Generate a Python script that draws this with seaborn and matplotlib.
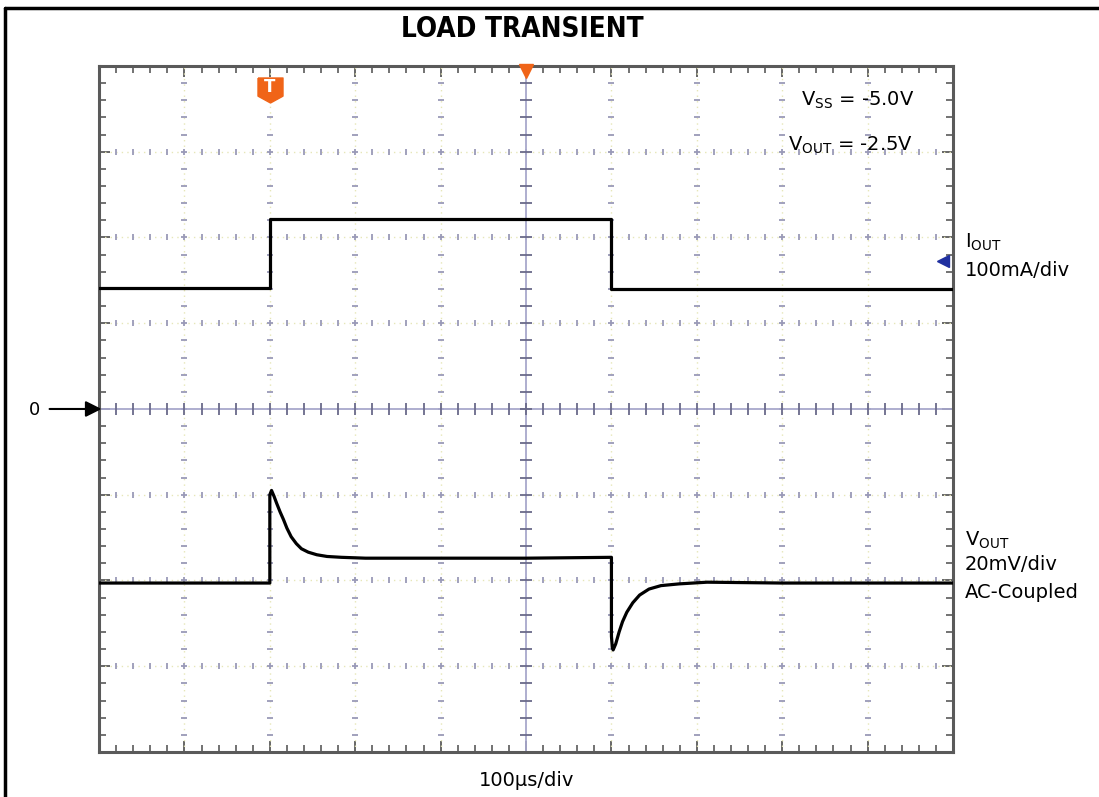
import numpy as np
import pandas as pd
import matplotlib
matplotlib.use("Agg")
import matplotlib.pyplot as plt
from matplotlib.lines import Line2D
import seaborn as sns

# ---------------- data ----------------
# time axis: 100 us/div, 10 divisions; vertical values in screen divisions
iout_t = [0, 200, 200, 600, 600, 1000]
iout_div = [1.41, 1.41, 2.22, 2.22, 1.40, 1.40]

vout_t = [0, 200, 200, 202, 205, 208, 212, 216, 220, 225, 231, 237, 245,
          255, 267, 284, 312, 400, 500,
          600, 600, 601, 602, 605, 609, 613, 618, 625, 633, 644, 658, 679,
          712, 800, 900, 1000]
vout_div = [-2.03, -2.03, -1.00, -0.95, -1.02, -1.10, -1.20, -1.29, -1.39,
            -1.49, -1.57, -1.63, -1.67, -1.70, -1.72, -1.73, -1.74, -1.74,
            -1.74,
            -1.73, -2.65, -2.78, -2.81, -2.74, -2.60, -2.48, -2.37, -2.26,
            -2.17, -2.10, -2.06, -2.04, -2.02, -2.03, -2.03, -2.03]

trigger_t = 200          # trigger position (us)
iout_ref_div = 1.72      # channel reference marker level (div)

title = "LOAD TRANSIENT"
x_label = "100\u00b5s/div"
note1 = r"V$_{\rm SS}$ = -5.0V"
note2 = r"V$_{\rm OUT}$ = -2.5V"
iout_labels = [r"I$_{\rm OUT}$", "100mA/div"]
vout_labels = [r"V$_{\rm OUT}$", "20mV/div", "AC-Coupled"]

# ---------------- figure ----------------
sns.set_theme(style="white")
plt.rcParams["font.family"] = ["DejaVu Sans"]
plt.rcParams["mathtext.fontset"] = "dejavusans"
plt.rcParams["text.color"] = "black"

fig = plt.figure(figsize=(10.99, 7.97), dpi=100)
ax = fig.add_axes([0.0901, 0.0565, 0.7771, 0.8607])
ax.set_xlim(0, 1000)
ax.set_ylim(-4, 4)

grid_col = "#9a9ab8"
faint_col = "#e6e6b8"

# faint dotted grid lines with 0.2-div marks
xs_major = np.arange(100, 1000, 100)
ys_major = np.arange(-3, 4, 1)
for xv in xs_major:
    if xv == 500:
        continue
    ax.axvline(xv, color=faint_col, lw=1.0, ls=(0, (1, 3)), zorder=1)
    ax.plot(np.full(39, xv), np.arange(-3.8, 3.81, 0.2), ls="none", marker="_",
            ms=5, mew=1.3, color=grid_col, zorder=2)
for yv in ys_major:
    if yv == 0:
        continue
    ax.axhline(yv, color=faint_col, lw=1.0, ls=(0, (1, 3)), zorder=1)
    ax.plot(np.arange(20, 981, 20), np.full(49, yv), ls="none", marker="|",
            ms=5, mew=1.3, color=grid_col, zorder=2)

# center cross with ticks
ax.axhline(0, color="#a8a8cc", lw=1.3, zorder=2)
ax.axvline(500, color="#a8a8cc", lw=1.3, zorder=2)
ax.plot(np.arange(20, 981, 20), np.zeros(49), ls="none", marker="|", ms=8,
        mew=1.3, color="#6a6a8a", zorder=2)
ax.plot(np.full(39, 500), np.arange(-3.8, 3.81, 0.2), ls="none", marker="_",
        ms=8, mew=1.3, color="#6a6a8a", zorder=2)

# traces
sns.lineplot(x=iout_t, y=iout_div, sort=False, estimator=None, color="black",
             lw=2.3, ax=ax, zorder=5)
sns.lineplot(x=vout_t, y=vout_div, sort=False, estimator=None, color="black",
             lw=2.3, ax=ax, zorder=5)

# frame
for s in ax.spines.values():
    s.set_color("#5a5a5a")
    s.set_linewidth(2.2)
ax.set_xticks(np.arange(0, 1001, 100))
ax.set_xticks(np.arange(0, 1001, 20), minor=True)
ax.set_yticks(np.arange(-4, 4.01, 1))
ax.set_yticks(np.arange(-4, 4.01, 0.2), minor=True)
ax.tick_params(which="both", direction="in", top=True, right=True,
               bottom=True, left=True, labelbottom=False, labelleft=False,
               color="#5a5a5a")
ax.tick_params(which="major", length=8, width=1.3)
ax.tick_params(which="minor", length=5, width=1.2)
ax.set_xlabel("")
ax.set_ylabel("")

# trigger badge
shield = [(-1, 1), (1, 1), (1, -0.45), (0, -1), (-1, -0.45), (-1, 1)]
ax.plot([trigger_t], [3.72], marker=shield, ms=18, color="#f06418",
        ls="none", clip_on=False, zorder=8)
ax.text(trigger_t, 3.76, "T", color="white", fontweight="bold", ha="center",
        va="center", fontsize=12, zorder=9)
# trigger time marker at top center
ax.plot([500], [3.94], marker="v", ms=10, color="#f06418", ls="none",
        clip_on=False, zorder=8)
# channel reference marker
ax.plot([988], [iout_ref_div], marker="<", ms=9, color="#2030a0", ls="none",
        clip_on=False, zorder=8)
# ground reference arrow
ax.annotate("", xy=(3, 0), xycoords="data", xytext=(-52, 0),
            textcoords="offset pixels",
            arrowprops=dict(arrowstyle="-|>", color="black", lw=1.5,
                            mutation_scale=24, shrinkA=0, shrinkB=0),
            annotation_clip=False, zorder=9)
fig.text(0.0318, 0.4856, "0", ha="center", va="center", fontsize=13)

# texts
fig.text(0.475, 0.9636, title, ha="center", va="center", fontsize=20,
         fontweight="bold", fontstretch="condensed",
         family=["DejaVu Sans"])
fig.text(0.780, 0.8745, note1, ha="center", va="center", fontsize=14)
fig.text(0.774, 0.8180, note2, ha="center", va="center", fontsize=14)
fig.text(0.878, 0.6964, iout_labels[0], ha="left", va="center", fontsize=14)
fig.text(0.878, 0.6612, iout_labels[1], ha="left", va="center", fontsize=14)
fig.text(0.878, 0.3225, vout_labels[0], ha="left", va="center", fontsize=14)
fig.text(0.878, 0.2911, vout_labels[1], ha="left", va="center", fontsize=14)
fig.text(0.878, 0.2572, vout_labels[2], ha="left", va="center", fontsize=14)
fig.text(0.4795, 0.0213, x_label, ha="center", va="center", fontsize=14)

# outer border (left and top)
fig.add_artist(Line2D([5 / 1099, 5 / 1099], [0, 1 - 8 / 797], color="black",
                      lw=2.5, transform=fig.transFigure))
fig.add_artist(Line2D([5 / 1099, 1], [1 - 8 / 797, 1 - 8 / 797], color="black",
                      lw=2.5, transform=fig.transFigure))

fig.savefig("out.png", dpi=100, facecolor="white")
